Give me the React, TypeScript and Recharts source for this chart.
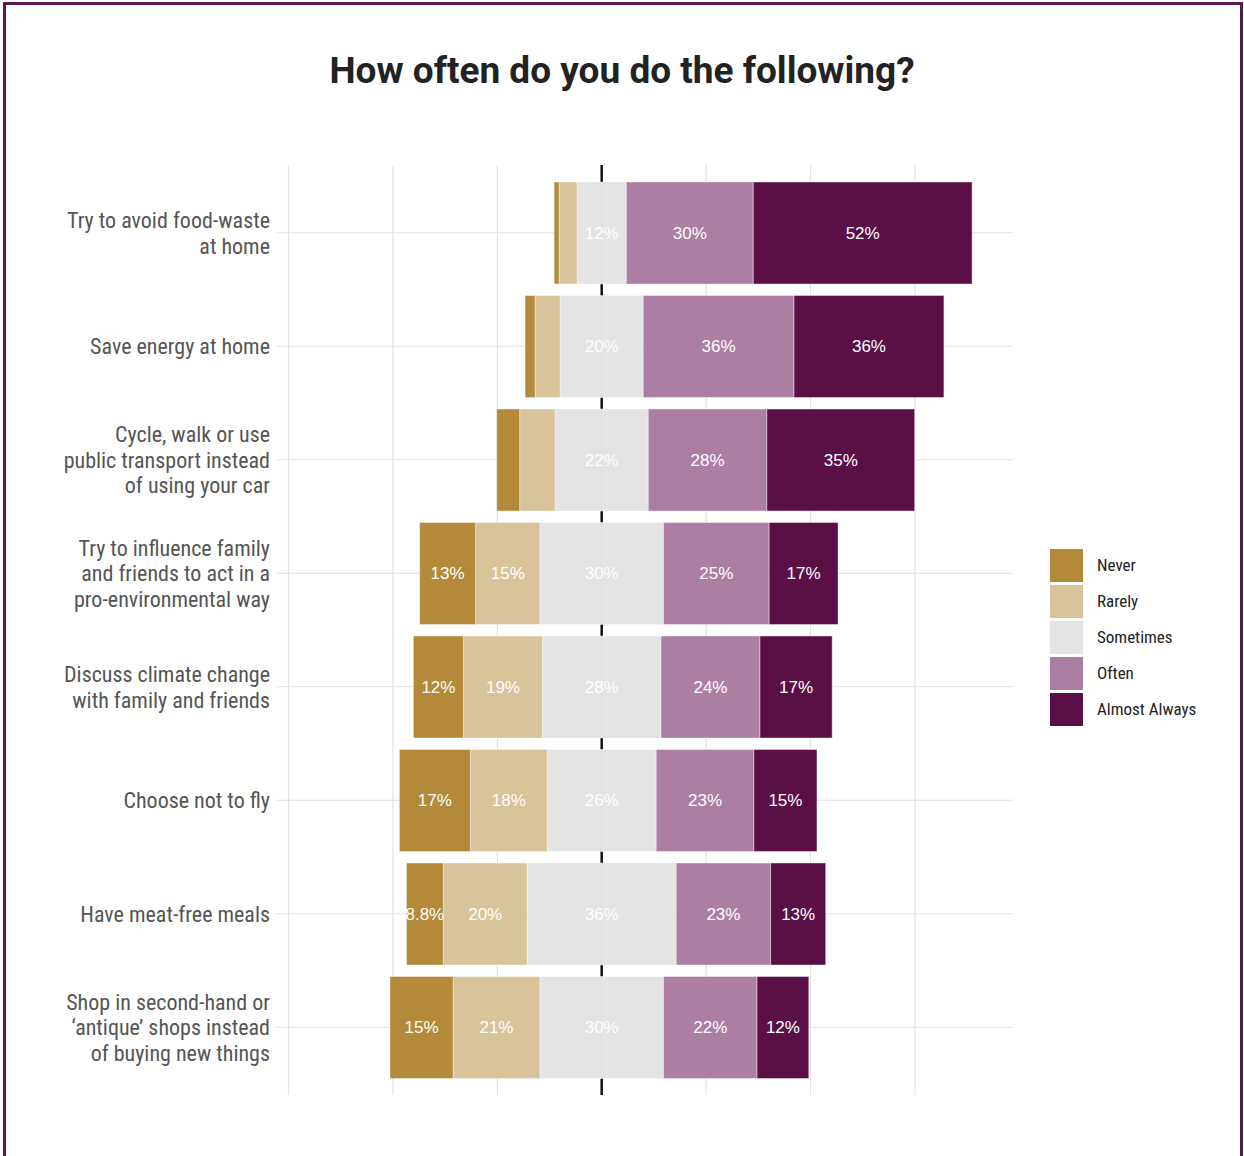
import { Bar, BarChart, CartesianGrid, LabelList, XAxis, YAxis } from "recharts";

const items = [
  "Try to avoid food-waste\nat home",
  "Save energy at home",
  "Cycle, walk or use\npublic transport instead\nof using your car",
  "Try to influence family\nand friends to act in a\npro-environmental way",
  "Discuss climate change\nwith family and friends",
  "Choose not to fly",
  "Have meat-free meals",
  "Shop in second-hand or\n‘antique’ shops instead\nof buying new things",
];
const never = [1.2, 2.4, 5.5, 13.4, 12.0, 17.0, 8.8, 15.1];
const rarely = [4.3, 6.0, 8.5, 15.4, 18.9, 18.4, 20.1, 20.8];
const sometimes = [11.8, 19.9, 22.3, 29.6, 28.4, 26.1, 35.7, 29.6];
const often = [30.4, 36.1, 28.4, 25.3, 23.7, 23.4, 22.6, 22.4];
const almostAlways = [52.4, 35.9, 35.4, 16.5, 17.3, 15.1, 13.2, 12.4];

const levels = ["Never", "Rarely", "Sometimes", "Often", "Almost Always"];
const colors = ["#b38a3a", "#d9c39b", "#e3e4e3", "#ac7ea2", "#5b0f47"];
const xTicks = [-75, -50, -25, 0, 25, 50, 75];

const narrow = "'Liberation Sans Narrow', 'Roboto Condensed', Roboto, sans-serif";

// diverging stack: sometimes split in two halves around zero
const data = items.map((item, i) => ({
  item,
  someNeg: -sometimes[i] / 2,
  rarely: -rarely[i],
  never: -never[i],
  somePos: sometimes[i] / 2,
  often: often[i],
  always: almostAlways[i],
}));

const fmt = (v: number) => (v >= 10 ? `${Math.round(v)}%` : `${v.toFixed(1)}%`);

const segLabel = (kind: string) => (props: any) => {
  const { x, y, width, height, value, index } = props;
  let v = Math.abs(Number(value));
  let cx = Number(x) + Number(width) / 2;
  if (kind === "some") {
    v = sometimes[index];
    cx = Number(x);
  }
  if (v < 8.7) return null;
  return (
    <text
      x={cx}
      y={Number(y) + Number(height) / 2}
      textAnchor="middle"
      dominantBaseline="central"
      fill="#fff"
      fontSize={17}
      fontFamily="'Liberation Sans', Arial, sans-serif"
    >
      {fmt(v)}
    </text>
  );
};

function ItemTick({ x, y, payload }: any) {
  const lines = String(payload.value).split("\n");
  const lh = 25.5;
  const y0 = y - ((lines.length - 1) * lh) / 2;
  return (
    <text textAnchor="end" dominantBaseline="central" fill="#555" fontSize={22} fontFamily={narrow}>
      {lines.map((l, i) => (
        <tspan key={i} x={x + 2} y={y0 + i * lh}>
          {l}
        </tspan>
      ))}
    </text>
  );
}

const zeroIdx = xTicks.indexOf(0);
const gridV = (p: any) => (
  <line
    key={p.key}
    x1={p.x1}
    y1={p.y1}
    x2={p.x2}
    y2={p.y2}
    stroke={p.index === zeroIdx ? "#111" : "#e2e2e2"}
    strokeWidth={p.index === zeroIdx ? 2.5 : 1.2}
  />
);
const gridH = (p: any) => (
  <line key={p.key} x1={p.x1} y1={p.y1} x2={p.x2} y2={p.y2} stroke="#e2e2e2" strokeWidth={1.2} />
);

export default function App() {
  const segStroke = { stroke: "#ffffff", strokeWidth: 0.6, strokeOpacity: 0.7 };
  return (
    <div style={{ position: "absolute", left: 0, top: 0, width: 1244, height: 1156, overflow: "hidden", background: "#fff" }}>
      <div
        style={{
          position: "absolute",
          left: 3,
          top: 2,
          width: 1240,
          height: 1220,
          border: "3px solid #5c1a4f",
          boxSizing: "border-box",
        }}
      />
      <div
        style={{
          position: "absolute",
          left: 0,
          top: 49,
          width: 1244,
          textAlign: "center",
          fontFamily: "Roboto, sans-serif",
          fontWeight: 700,
          fontSize: 37,
          color: "#222",
        }}
      >
        How often do you do the following?
      </div>
      <div style={{ position: "absolute", left: 0, top: 0 }}>
        <BarChart
          width={1244}
          height={1156}
          data={data}
          layout="vertical"
          stackOffset="sign"
          margin={{ top: 165, right: 231, bottom: 61, left: 0 }}
          barSize={102}
        >
          <CartesianGrid syncWithTicks horizontal={gridH} vertical={gridV} />
          <XAxis type="number" hide domain={[-78, 98.5]} ticks={xTicks} allowDataOverflow />
          <YAxis
            type="category"
            dataKey="item"
            width={276}
            axisLine={false}
            tickLine={false}
            padding={{ top: 11, bottom: 11 }}
            tick={<ItemTick />}
            interval={0}
          />
          <Bar dataKey="someNeg" stackId="a" fill={colors[2]} {...segStroke} isAnimationActive={false} />
          <Bar dataKey="rarely" stackId="a" fill={colors[1]} {...segStroke} isAnimationActive={false}>
            <LabelList dataKey="rarely" content={segLabel("neg")} />
          </Bar>
          <Bar dataKey="never" stackId="a" fill={colors[0]} {...segStroke} isAnimationActive={false}>
            <LabelList dataKey="never" content={segLabel("neg")} />
          </Bar>
          <Bar dataKey="somePos" stackId="a" fill={colors[2]} {...segStroke} isAnimationActive={false}>
            <LabelList dataKey="somePos" content={segLabel("some")} />
          </Bar>
          <Bar dataKey="often" stackId="a" fill={colors[3]} {...segStroke} isAnimationActive={false}>
            <LabelList dataKey="often" content={segLabel("pos")} />
          </Bar>
          <Bar dataKey="always" stackId="a" fill={colors[4]} {...segStroke} isAnimationActive={false}>
            <LabelList dataKey="always" content={segLabel("pos")} />
          </Bar>
        </BarChart>
      </div>
      <div style={{ position: "absolute", left: 1050, top: 547 }}>
        {levels.map((lv, i) => (
          <div key={lv} style={{ display: "flex", alignItems: "center", height: 36 }}>
            <div style={{ width: 33, height: 33, background: colors[i], marginRight: 14 }} />
            <span style={{ fontFamily: narrow, fontSize: 17, color: "#222" }}>{lv}</span>
          </div>
        ))}
      </div>
    </div>
  );
}
